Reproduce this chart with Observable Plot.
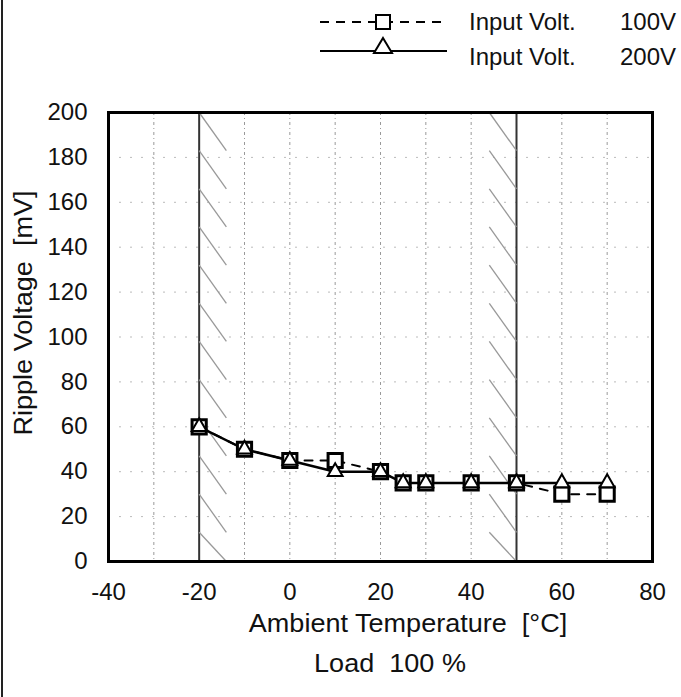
<!DOCTYPE html>
<html>
<head>
<meta charset="utf-8">
<script src="https://cdn.jsdelivr.net/npm/d3@7"></script>
<script src="https://cdn.jsdelivr.net/npm/@observablehq/plot@0.6"></script>
<style>
  html, body { margin: 0; padding: 0; background: #fff; }
  #wrap { position: relative; width: 681px; height: 697px; overflow: hidden;
          font-family: "Liberation Sans", Arial, sans-serif; color: #111; }
  #wrap svg.plot { position: absolute; left: 0; top: 0; }
  .t { position: absolute; white-space: pre; font-size: 24px; line-height: 1; }
  #border { position: absolute; left: 1px; top: 0; width: 2px; height: 697px; background: #222; }
</style>
</head>
<body>
<div id="wrap">
  <div id="border"></div>
</div>
<script>
// ---- data ----
const temps = [-20, -10, 0, 10, 20, 25, 30, 40, 50, 60, 70];
const ripple100V = [60, 50, 45, 45, 40, 35, 35, 35, 35, 30, 30];
const ripple200V = [60, 50, 45, 40, 40, 35, 35, 35, 35, 35, 35];
const xTicks = [-40, -20, 0, 20, 40, 60, 80];
const yTicks = [0, 20, 40, 60, 80, 100, 120, 140, 160, 180, 200];
const gridX = [-30, -10, 0, 10, 20, 30, 40, 60, 70];
const limitX = [-20, 50];
const hatchTops = [200, 183, 166, 149, 132, 115, 98, 81, 64, 47, 30, 13];
const hatchLen = 17;   // mV drop per hatch stroke
const hatchDx = 6;     // °C width of hatch stroke
const seriesLabels = ["Input Volt.", "Input Volt."];
const seriesVolts = ["100V", "200V"];

const d100 = temps.map((t, i) => ({t, v: ripple100V[i]}));
const d200 = temps.map((t, i) => ({t, v: ripple200V[i]}));
const hatchLeft = hatchTops.map(y => ({x1: limitX[0], y1: y, x2: limitX[0] + hatchDx, y2: Math.max(0, y - hatchLen)}));
const hatchRight = hatchTops.map(y => ({x1: limitX[1] - hatchDx, y1: y, x2: limitX[1], y2: Math.max(0, y - hatchLen)}));

const font = "Liberation Sans, Arial, sans-serif";

const chart = Plot.plot({
  width: 681,
  height: 697,
  marginTop: 112,
  marginBottom: 136,
  marginLeft: 108,
  marginRight: 29,
  style: {fontFamily: font, background: "transparent", color: "#111"},
  x: {domain: [-40, 80]},
  y: {domain: [0, 200]},
  marks: [
    Plot.ruleY(yTicks.slice(1, -1), {stroke: "#bbb", strokeWidth: 1, strokeDasharray: "2,9"}),
    Plot.ruleX(gridX, {stroke: "#999", strokeWidth: 1, strokeDasharray: "3,3,1,3"}),
    Plot.ruleX(limitX, {stroke: "#333", strokeWidth: 2}),
    Plot.link(hatchLeft, {x1: "x1", y1: "y1", x2: "x2", y2: "y2", stroke: "#999", strokeWidth: 1.3}),
    Plot.link(hatchRight, {x1: "x1", y1: "y1", x2: "x2", y2: "y2", stroke: "#999", strokeWidth: 1.3}),
    Plot.line(d100, {x: "t", y: "v", stroke: "#000", strokeWidth: 2, strokeDasharray: "8,8"}),
    Plot.line(d200, {x: "t", y: "v", stroke: "#000", strokeWidth: 2.5}),
    Plot.dot(d100, {x: "t", y: "v", symbol: "square", r: 8, stroke: "#000", strokeWidth: 3, fill: "#fff"}),
    Plot.dot(d200, {x: "t", y: "v", symbol: "triangle", r: 5.5, stroke: "#000", strokeWidth: 2, fill: "#fff"}),
    Plot.frame({stroke: "#000", strokeWidth: 3}),
    Plot.axisX({ticks: xTicks, tickFormat: d => String(d), tickSize: 0, tickPadding: 21, fontSize: 24, label: null}),
    Plot.axisY({ticks: yTicks, tickFormat: d => String(d), tickSize: 0, tickPadding: 21, fontSize: 24, label: null})
  ]
});
chart.classList.add("plot");
const wrap = document.getElementById("wrap");
wrap.appendChild(chart);

function addText(txt, left, top, extra) {
  const d = document.createElement("div");
  d.className = "t";
  d.textContent = txt;
  d.style.left = left + "px";
  d.style.top = top + "px";
  if (extra) Object.assign(d.style, extra);
  wrap.appendChild(d);
  return d;
}

// axis titles
addText("Ambient Temperature  [°C]", 408, 623, {fontSize: "26px", transform: "translate(-50%,-50%) scaleX(1.04)"});
addText("Load  100 %", 390, 663, {fontSize: "26px", transform: "translate(-50%,-50%) scaleX(1.04)"});
addText("Ripple Voltage  [mV]", 23, 313, {fontSize: "26px", transform: "translate(-50%,-50%) rotate(-90deg) scaleX(1.04)"});

// legend
const ns = "http://www.w3.org/2000/svg";
const lg = document.createElementNS(ns, "svg");
lg.setAttribute("width", 140); lg.setAttribute("height", 80);
lg.style.position = "absolute"; lg.style.left = "315px"; lg.style.top = "0px";
lg.innerHTML =
  '<line x1="5" y1="22" x2="132" y2="22" stroke="#000" stroke-width="2" stroke-dasharray="9,7"/>' +
  '<rect x="61" y="15" width="14" height="14" fill="#fff" stroke="#000" stroke-width="2"/>' +
  '<line x1="5" y1="51" x2="132" y2="51" stroke="#000" stroke-width="2"/>' +
  '<path d="M68,38 L77,53 L59,53 Z" fill="#fff" stroke="#000" stroke-width="2"/>';
wrap.appendChild(lg);
addText(seriesLabels[0], 469, 22, {transform: "translateY(-50%)"});
addText(seriesVolts[0], 676, 22, {transform: "translate(-100%,-50%)"});
addText(seriesLabels[1], 469, 57, {transform: "translateY(-50%)"});
addText(seriesVolts[1], 676, 57, {transform: "translate(-100%,-50%)"});
</script>
</body>
</html>
